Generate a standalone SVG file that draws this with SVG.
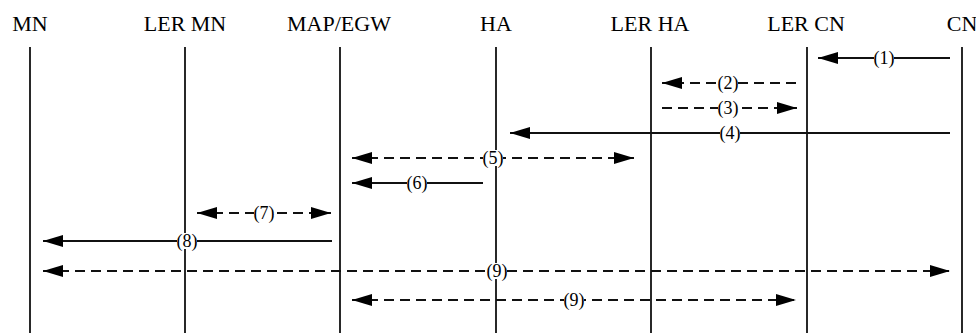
<svg xmlns="http://www.w3.org/2000/svg" width="976" height="333" viewBox="0 0 976 333">
<style>
.life{stroke:#111;stroke-width:1.8;fill:none}
.head{font-family:"Liberation Serif","Times New Roman",serif;font-size:22px;font-weight:normal;fill:#000;text-anchor:middle}
.msg{stroke:#111;stroke-width:1.8;fill:none;marker-end:url(#ah)}
.dash{stroke-dasharray:10,6}
.both{marker-start:url(#ahs)}
.lbl{font-family:"Liberation Serif","Times New Roman",serif;font-size:18px;fill:#000;text-anchor:middle}
.bg{fill:#fff}
</style>
<defs>
<marker id="ah" markerUnits="userSpaceOnUse" markerWidth="22" markerHeight="14" refX="20" refY="6" orient="auto">
<path d="M0,0 L20,6 L0,12 z" fill="#000"/>
</marker>
<marker id="ahs" markerUnits="userSpaceOnUse" markerWidth="22" markerHeight="14" refX="20" refY="6" orient="auto-start-reverse">
<path d="M0,0 L20,6 L0,12 z" fill="#000"/>
</marker>
</defs>
<rect width="976" height="333" fill="#fff"/>
<g id="node-MN"><text class="head" x="30" y="31">MN</text><line class="life" x1="30" y1="47" x2="30" y2="333"/></g>
<g id="node-LER-MN"><text class="head" x="185" y="31">LER MN</text><line class="life" x1="185" y1="47" x2="185" y2="333"/></g>
<g id="node-MAP-EGW"><text class="head" x="339" y="31">MAP/EGW</text><line class="life" x1="340" y1="47" x2="340" y2="333"/></g>
<g id="node-HA"><text class="head" x="496" y="31">HA</text><line class="life" x1="496" y1="47" x2="496" y2="333"/></g>
<g id="node-LER-HA"><text class="head" x="650" y="31">LER HA</text><line class="life" x1="651" y1="47" x2="651" y2="333"/></g>
<g id="node-LER-CN"><text class="head" x="806" y="31">LER CN</text><line class="life" x1="807" y1="47" x2="807" y2="333"/></g>
<g id="node-CN"><text class="head" x="962" y="31">CN</text><line class="life" x1="962" y1="47" x2="962" y2="333"/></g>
<g id="connectors">
<line class="msg" x1="950" y1="58" x2="818" y2="58"/>
<line class="msg dash" x1="796" y1="83" x2="662" y2="83"/>
<line class="msg dash" x1="662" y1="108" x2="797" y2="108"/>
<line class="msg" x1="950" y1="133" x2="510" y2="133"/>
<line class="msg dash both" x1="352" y1="158" x2="634" y2="158"/>
<line class="msg" x1="483" y1="183" x2="352" y2="183"/>
<line class="msg dash both" x1="197" y1="213" x2="331" y2="213"/>
<line class="msg" x1="332" y1="241" x2="43" y2="241"/>
<line class="msg dash both" x1="43" y1="271" x2="950" y2="271"/>
<line class="msg dash both" x1="352" y1="300" x2="796" y2="300"/>
</g>
<g id="labels">
<rect class="bg" x="874" y="50" width="20" height="16"/><text class="lbl" x="884" y="64">(1)</text>
<rect class="bg" x="718" y="75" width="20" height="16"/><text class="lbl" x="728" y="89">(2)</text>
<rect class="bg" x="718" y="100" width="20" height="16"/><text class="lbl" x="728" y="114">(3)</text>
<rect class="bg" x="720" y="125" width="20" height="16"/><text class="lbl" x="730" y="139">(4)</text>
<rect class="bg" x="483" y="150" width="20" height="16"/><text class="lbl" x="493" y="164">(5)</text>
<rect class="bg" x="407" y="175" width="20" height="16"/><text class="lbl" x="417" y="189">(6)</text>
<rect class="bg" x="254" y="205" width="20" height="16"/><text class="lbl" x="264" y="219">(7)</text>
<rect class="bg" x="177" y="233" width="20" height="16"/><text class="lbl" x="187" y="247">(8)</text>
<rect class="bg" x="487" y="263" width="20" height="16"/><text class="lbl" x="497" y="277">(9)</text>
<rect class="bg" x="564" y="292" width="20" height="16"/><text class="lbl" x="574" y="306">(9)</text>
</g>
</svg>
